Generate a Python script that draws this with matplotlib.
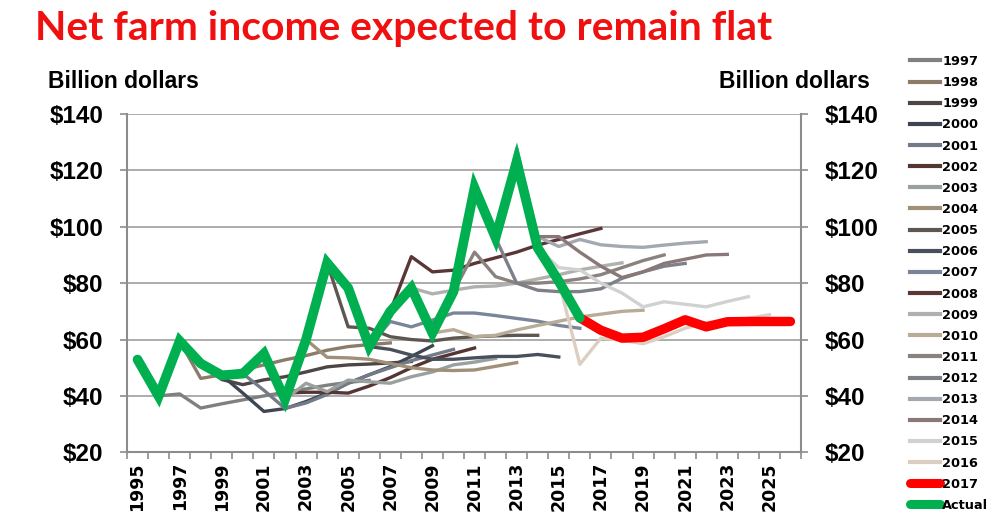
import numpy as np
import matplotlib
matplotlib.use("Agg")
import matplotlib.pyplot as plt
from matplotlib.ticker import FixedLocator, FuncFormatter

# ---------------- data ----------------
actual_years = list(range(1995, 2017))
actual = [52.9, 39.9, 59.5, 51.5, 47.3, 47.9, 55.0, 38.7, 60.0, 87.2, 78.3,
          57.6, 70.0, 78.3, 62.3, 77.0, 113.8, 96.1, 123.1, 92.5, 80.7, 67.7]

forecast_2017_years = list(range(2016, 2027))
forecast_2017 = [67.7, 63.3, 60.5, 60.8, 63.8, 67.0, 64.5, 66.3, 66.4, 66.4, 66.4]

baseline_labels = [str(y) for y in range(1997, 2017)]
baseline_starts = list(range(1996, 2016))
b1997 = [40.0, 40.7, 35.7, 37.2, 38.6, 40.0, 41.3, 42.5, 43.8, 44.8, 45.5]
b1998 = [59.5, 46.2, 47.5, 49.2, 51.0, 52.8, 54.3, 56.2, 57.5, 58.2, 58.8]
b1999 = [51.5, 45.8, 44.0, 45.7, 46.8, 48.5, 50.3, 51.0, 51.3, 51.7, 52.2]
b2000 = [47.3, 41.0, 34.5, 35.5, 38.0, 41.0, 44.5, 47.5, 50.4, 54.0, 57.8]
b2001 = [47.9, 42.0, 35.6, 37.5, 40.5, 44.5, 47.5, 50.0, 52.5, 54.5, 56.5]
b2002 = [55.0, 41.0, 41.3, 41.3, 41.0, 43.5, 46.5, 50.0, 53.0, 55.0, 57.0]
b2003 = [38.7, 44.5, 41.5, 45.6, 45.0, 44.5, 46.8, 48.5, 51.0, 52.0, 53.3]
b2004 = [60.0, 53.7, 53.5, 53.0, 51.5, 50.0, 49.2, 49.0, 49.2, 50.5, 51.8]
b2005 = [87.2, 64.5, 64.0, 61.0, 60.0, 59.5, 60.5, 61.0, 61.3, 61.5, 61.5]
b2006 = [78.3, 57.5, 56.5, 54.5, 53.0, 53.0, 53.5, 54.0, 54.0, 54.7, 53.8]
b2007 = [57.6, 66.4, 64.5, 66.9, 69.4, 69.4, 68.5, 67.5, 66.5, 65.0, 64.0]
b2008 = [70.0, 89.4, 84.0, 84.6, 87.0, 89.0, 91.0, 93.5, 95.5, 97.5, 99.4]
b2009 = [78.3, 76.2, 77.5, 78.7, 79.0, 80.0, 81.5, 83.0, 84.7, 86.0, 87.2]
b2010 = [62.3, 63.5, 61.0, 61.5, 63.4, 65.0, 66.5, 68.0, 69.0, 70.0, 70.4]
b2011 = [77.0, 91.0, 82.3, 80.0, 80.0, 80.5, 81.5, 83.0, 85.5, 88.0, 90.0]
b2012 = [113.8, 96.0, 80.0, 77.5, 77.0, 77.0, 78.0, 81.7, 84.0, 86.0, 87.0]
b2013 = [96.1, 127.8, 96.5, 93.0, 95.5, 93.6, 93.0, 92.7, 93.5, 94.2, 94.7]
b2014 = [123.1, 96.5, 96.5, 91.0, 86.0, 82.0, 84.0, 87.0, 88.5, 90.0, 90.2]
b2015 = [92.5, 85.5, 84.7, 80.0, 76.5, 71.6, 73.4, 72.5, 71.6, 73.5, 75.2]
b2016 = [80.7, 51.2, 60.5, 59.8, 58.5, 61.0, 64.0, 66.0, 66.5, 67.5, 68.8]
baselines = [b1997, b1998, b1999, b2000, b2001, b2002, b2003, b2004, b2005, b2006,
             b2007, b2008, b2009, b2010, b2011, b2012, b2013, b2014, b2015, b2016]

baseline_colors = ['#808080', '#8C7B68', '#4F4545', '#3D4652', '#737A88', '#553434',
                   '#9AA09E', '#A0907A', '#5E5650', '#48505C', '#7A8598', '#5A3636',
                   '#B0B0AE', '#B8AC98', '#8A827E', '#7E8088', '#A4A8B0', '#8A7878',
                   '#D0D2D2', '#DCCFC2']

xtick_years = list(range(1995, 2027, 2))
yticks = [20, 40, 60, 80, 100, 120, 140]

# ---------------- figure ----------------
W, H = 999, 526
fig = plt.figure(figsize=(W / 100, H / 100), dpi=100)
ax = fig.add_axes([127 / W, 1 - 452.3 / H, (801 - 127) / W, (452.3 - 114) / H])

handles = []
for lab, start, vals, col in zip(baseline_labels, baseline_starts, baselines, baseline_colors):
    xs = list(range(start, start + len(vals)))
    h, = ax.plot(xs, vals, color=col, lw=2.4, label=lab, zorder=3)
    handles.append(h)

hr, = ax.plot(forecast_2017_years, forecast_2017, color='#FF0000', lw=6.8,
              solid_capstyle='round', solid_joinstyle='round', label='2017', zorder=5)
hg, = ax.plot(actual_years, actual, color='#00B050', lw=7,
              solid_capstyle='round', solid_joinstyle='miter', label='Actual', zorder=6)
handles += [hr, hg]

ax.set_xlim(1994.5, 2026.5)
ax.set_ylim(20, 140)

grid_col = '#A6A6A6'
for y in yticks:
    ax.axhline(y, color=grid_col, lw=1.3, zorder=1)

ax.spines['top'].set_visible(False)
for s in ['left', 'right', 'bottom']:
    ax.spines[s].set_color('#8C8C8C')
    ax.spines[s].set_linewidth(1.5)

ax.yaxis.set_major_locator(FixedLocator(yticks))
ax.yaxis.set_major_formatter(FuncFormatter(lambda v, p: f"${int(v)}"))
ax.tick_params(axis='y', which='major', direction='out', length=5, width=1.2,
               color='#8C8C8C', left=True, right=True, labelleft=True, labelright=True,
               pad=12)
for lbl in ax.get_yticklabels():
    lbl.set_fontfamily('Liberation Sans')
    lbl.set_fontweight('bold')
    lbl.set_fontsize(17.5)

ax.xaxis.set_major_locator(FixedLocator(xtick_years))
ax.xaxis.set_minor_locator(FixedLocator(np.arange(1994.5, 2027, 1.0)))
ax.xaxis.set_major_formatter(FuncFormatter(lambda v, p: str(int(round(v)))))
ax.tick_params(axis='x', which='major', length=0, pad=7, labelrotation=90)
ax.tick_params(axis='x', which='minor', direction='out', length=5, width=1.2, color='#8C8C8C')
for lbl in ax.get_xticklabels():
    lbl.set_fontfamily('DejaVu Sans')
    lbl.set_fontweight('bold')
    lbl.set_fontsize(12.5)

# texts
fig.text(35 / W, 1 - 40 / H, 'Net farm income expected to remain flat', color='#F01010',
         fontsize=29.4, family='Lato', fontweight='bold', va='baseline', ha='left')
fig.text(48 / W, 1 - 88 / H, 'Billion dollars', fontsize=16.5, family='Liberation Sans',
         fontweight='bold', va='baseline', ha='left')
fig.text(719 / W, 1 - 88 / H, 'Billion dollars', fontsize=16.5, family='Liberation Sans',
         fontweight='bold', va='baseline', ha='left')

leg = fig.legend(handles=handles, loc='upper left', bbox_to_anchor=(910 / W, 1 - 55 / H),
                 frameon=False, prop={'family': 'DejaVu Sans', 'weight': 'bold', 'size': 9.3},
                 handlelength=2.3, handletextpad=0.2, labelspacing=0.63,
                 borderpad=0, borderaxespad=0)
for lh in leg.get_lines():
    if lh.get_label() in ('2017', 'Actual'):
        lh.set_linewidth(6.5)
        lh.set_solid_capstyle('round')
    else:
        lh.set_linewidth(3)

fig.savefig('out.png', dpi=100)
